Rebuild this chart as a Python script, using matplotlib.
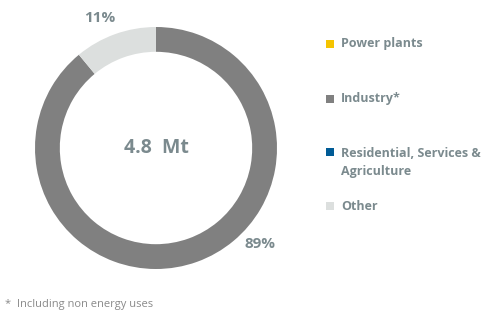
import numpy as np
import matplotlib
matplotlib.use("Agg")
import matplotlib.pyplot as plt
from matplotlib.patches import Rectangle

# Data
categories = ["Power plants", "Industry*", "Residential, Services &\nAgriculture", "Other"]
shares = [0, 89, 0, 11]
colors = ["#f5c400", "#808080", "#005b96", "#dcdfde"]
total_label = "4.8  Mt"
footnote = "*  Including non energy uses"

text_color = "#7b8a8e"
plt.rcParams["font.family"] = ["Open Sans", "DejaVu Sans"]

fig = plt.figure(figsize=(4.88, 3.19), dpi=100)
W, H = 488, 319

# donut axes placed in pixel terms
cx, cy, r = 156, 148, 121
ax = fig.add_axes([(cx - r) / W, (H - cy - r) / H, 2 * r / W, 2 * r / H])
wedges, _ = ax.pie(shares, colors=colors, startangle=90, counterclock=False,
                   radius=1.0, wedgeprops=dict(width=0.205, linewidth=0))
ax.set_xlim(-1, 1)
ax.set_ylim(-1, 1)
ax.set_aspect("equal")
ax.axis("off")

ax.text(0, 0, total_label, ha="center", va="center", fontsize=14,
        fontweight="bold", color=text_color)

# percent labels outside the ring
label_angles = {1: -42.5, 3: 113.6}
for i, ang in label_angles.items():
    a = np.deg2rad(ang)
    ax.text(1.17 * np.cos(a), 1.17 * np.sin(a), f"{shares[i]}%", ha="center",
            va="center", fontsize=11, fontweight="bold", color=text_color)

# legend drawn by hand
legend_y = [44, 99, 152, 206]
for lab, col, y in zip(categories, colors, legend_y):
    fig.add_artist(Rectangle((326 / W, (H - y - 4) / H), 8 / W, 8 / H,
                             transform=fig.transFigure, color=col, lw=0))
    if "\n" in lab:
        fig.text(341 / W, (H - y + 5) / H, lab, ha="left", va="top",
                 fontsize=9, fontweight="bold", color=text_color, linespacing=1.45)
    else:
        fig.text(341 / W, (H - y) / H, lab, ha="left", va="center",
                 fontsize=9, fontweight="bold", color=text_color)

fig.text(5 / W, (H - 305) / H, footnote, ha="left", va="center", fontsize=8,
         color="#8a8a8a")

fig.savefig("out.png", dpi=100)
